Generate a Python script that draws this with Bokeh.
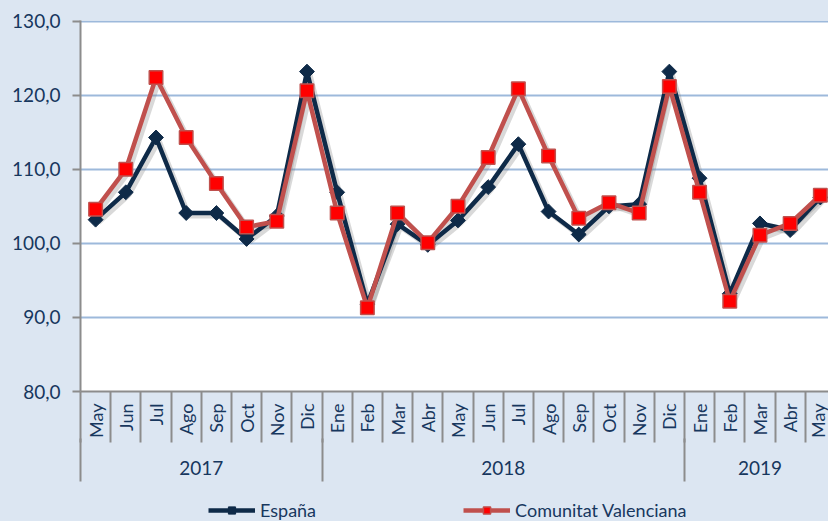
import math
from bokeh.plotting import figure
from bokeh.layouts import column
from bokeh.models import (Range1d, LinearAxis, FixedTicker, CustomJSTickFormatter,
                          Legend, LegendItem, ColumnDataSource, Grid)
from bokeh.embed import file_html
from bokeh.resources import INLINE

# ---- data ----
months = ["May", "Jun", "Jul", "Ago", "Sep", "Oct", "Nov", "Dic",
          "Ene", "Feb", "Mar", "Abr", "May", "Jun", "Jul", "Ago", "Sep", "Oct", "Nov", "Dic",
          "Ene", "Feb", "Mar", "Abr", "May"]
years = ["2017", "2018", "2019"]
year_counts = [8, 12, 5]
espana = [103.2, 106.9, 114.3, 104.1, 104.1, 100.6, 103.7, 123.2,
          106.9, 91.8, 102.6, 99.8, 103.1, 107.6, 113.4, 104.3, 101.2, 105.0, 105.3, 123.2,
          108.8, 93.2, 102.7, 101.8, 106.2]
cv = [104.6, 110.0, 122.4, 114.3, 108.1, 102.2, 103.0, 120.6,
      104.1, 91.3, 104.1, 100.1, 105.0, 111.6, 120.9, 111.8, 103.4, 105.5, 104.1, 121.2,
      106.9, 92.2, 101.1, 102.7, 106.5]
yticks = [80, 90, 100, 110, 120, 130]
series_names = ["España", "Comunitat Valenciana"]

# ---- style ----
FONT = "Lato"
TXT = "#17375e"
BG = "#dce6f2"
GRAY = "#8c8c8c"
NAVY = "#0e2a48"
RED_LINE = "#c0504d"
RED_FILL = "#ff0000"

x = list(range(len(months)))

p = figure(width=828, height=491,
           x_range=Range1d(-0.5, 24.27), y_range=Range1d(80, 130.1),
           output_backend="svg", toolbar_location=None,
           x_axis_location=None, y_axis_location=None,
           min_border_left=80, min_border_right=0, min_border_top=20, min_border_bottom=100,
           background_fill_color="white", border_fill_color=BG, outline_line_color=None)
for g in p.grid:
    g.visible = False

grid = Grid(dimension=1, ticker=FixedTicker(ticks=yticks),
            grid_line_color="#9db9db", grid_line_width=2)
p.add_layout(grid)

# y axis
yaxis = LinearAxis(ticker=FixedTicker(ticks=yticks),
                   formatter=CustomJSTickFormatter(code="return tick.toFixed(1).replace('.', ',');"),
                   major_tick_out=8, major_tick_in=0, minor_tick_line_color=None,
                   major_tick_line_color=GRAY, major_tick_line_width=2,
                   axis_line_color=GRAY, axis_line_width=2,
                   major_label_standoff=12,
                   major_label_text_font=FONT, major_label_text_font_size="19px",
                   major_label_text_color=TXT)
p.add_layout(yaxis, "left")

# month axis (its minor ticks mark every month boundary)
bounds = [i - 0.5 for i in range(len(months) + 1)]
maxis = LinearAxis(ticker=FixedTicker(ticks=x, minor_ticks=bounds),
                   major_label_overrides={i: m for i, m in enumerate(months)},
                   major_label_orientation=math.pi / 2,
                   major_tick_out=0, major_tick_in=0, major_tick_line_color=None,
                   minor_tick_out=51, minor_tick_in=0,
                   minor_tick_line_color=GRAY, minor_tick_line_width=2,
                   axis_line_color=GRAY, axis_line_width=2,
                   major_label_standoff=-39,
                   major_label_text_font=FONT, major_label_text_font_size="18px",
                   major_label_text_color=TXT)
p.add_layout(maxis, "below")

# year axis (its minor ticks continue the year boundaries downward)
starts = [sum(year_counts[:k]) for k in range(len(year_counts))]
ycenters = [s + (c - 1) / 2 for s, c in zip(starts, year_counts)]
ybounds = [s - 0.5 for s in starts] + [starts[-1] + year_counts[-1] - 0.5]
yaxis2 = LinearAxis(ticker=FixedTicker(ticks=ycenters, minor_ticks=ybounds),
                    major_label_overrides={c: yv for c, yv in zip(ycenters, years)},
                    axis_line_color=None, major_tick_line_color=None,
                    major_tick_out=0, major_tick_in=0,
                    minor_tick_in=2, minor_tick_out=41,
                    minor_tick_line_color=GRAY, minor_tick_line_width=2,
                    major_label_standoff=-21,
                    major_label_text_font=FONT, major_label_text_font_size="19px",
                    major_label_text_color=TXT)
p.add_layout(yaxis2, "below")

# shadows
sh_x = [v + 0.1 for v in x]
p.line(sh_x, [v - 0.4 for v in espana], line_color="#808080", line_alpha=0.3, line_width=5)
p.line(sh_x, [v - 0.4 for v in cv], line_color="#808080", line_alpha=0.3, line_width=5)

src = ColumnDataSource(dict(x=x, esp=espana, cv=cv))
p.line("x", "esp", source=src, line_color=NAVY, line_width=4.5)
p.scatter("x", "esp", source=src, marker="square", angle=math.pi / 4, size=10.5,
          fill_color=NAVY, line_color=NAVY, line_width=1)
p.line("x", "cv", source=src, line_color=RED_LINE, line_width=4.5)
p.scatter("x", "cv", source=src, marker="square", size=13.5,
          fill_color=RED_FILL, line_color=RED_LINE, line_width=1.5)

# legend strip below the chart (sample glyphs sit outside the strip's visible range)
lf = figure(width=828, height=30, x_range=Range1d(0, 1), y_range=Range1d(0, 1),
            output_backend="svg", toolbar_location=None,
            x_axis_location=None, y_axis_location=None,
            min_border=0, background_fill_color=BG, border_fill_color=BG,
            outline_line_color=None)
for g in lf.grid:
    g.visible = False
lsrc = ColumnDataSource(dict(x=[-5, -4], y=[-5, -5]))
ll1 = lf.line("x", "y", source=lsrc, line_color=NAVY, line_width=4.5)
ls1 = lf.scatter("x", "y", source=lsrc, marker="square", angle=math.pi / 4, size=8,
                 fill_color=NAVY, line_color=NAVY, line_width=1)
ll2 = lf.line("x", "y", source=lsrc, line_color=RED_LINE, line_width=4.5)
ls2 = lf.scatter("x", "y", source=lsrc, marker="square", size=10,
                 fill_color=RED_FILL, line_color=RED_LINE, line_width=1.5)

legend = Legend(items=[LegendItem(label=series_names[0], renderers=[ll1, ls1]),
                       LegendItem(label=series_names[1], renderers=[ll2, ls2])],
                orientation="horizontal", location=(128, 0), spacing=147,
                glyph_width=47, glyph_height=18, label_standoff=5, label_height=18,
                padding=0, margin=0, background_fill_alpha=0, border_line_color=None,
                label_text_font=FONT, label_text_font_size="18px", label_text_color=TXT)
lf.add_layout(legend, "center")

layout = column(p, lf, spacing=0, styles={"background-color": BG})
open("out.html", "w").write(file_html(layout, INLINE))
